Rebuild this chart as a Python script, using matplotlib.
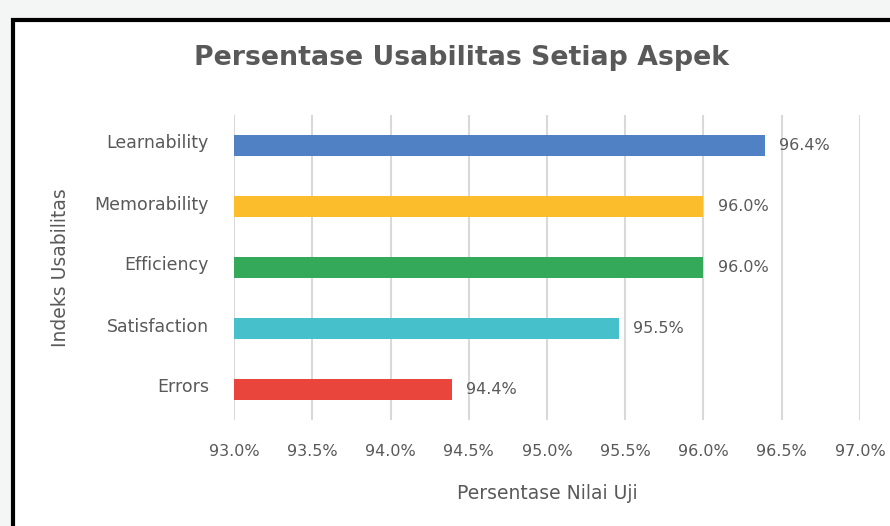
import matplotlib
matplotlib.use("Agg")
import matplotlib.pyplot as plt
from matplotlib.patches import Rectangle
from matplotlib.ticker import FuncFormatter
from matplotlib.transforms import ScaledTranslation

aspek = ["Learnability", "Memorability", "Efficiency", "Satisfaction", "Errors"]
nilai = [96.39, 96.00, 96.00, 95.46, 94.39]
warna = ["#4f81c4", "#fbbd2c", "#35a95a", "#46c0cb", "#e9453c"]
xticks = [93.0, 93.5, 94.0, 94.5, 95.0, 95.5, 96.0, 96.5, 97.0]

plt.rcParams["font.family"] = ["DejaVu Sans"]
teks = "#595959"

fig = plt.figure(figsize=(8.9, 5.26), dpi=100, facecolor="#f4f5f5")

# white chart area with black frame
fig.patches.append(Rectangle((13 / 890, -0.2), 1.2, 1.2 - 20 / 526,
                             transform=fig.transFigure, facecolor="white",
                             edgecolor="black", linewidth=3, zorder=0))

ax = fig.add_axes([234 / 890, 1 - 420 / 526, 626 / 890, 305 / 526])
ax.set_facecolor("none")
ax.set_zorder(2)

pos = list(range(len(aspek)))
ax.barh(pos, [v - 93.0 for v in nilai], left=93.0, height=0.36,
        color=warna, zorder=3)
for p, v in zip(pos, nilai):
    ax.text(v + 0.09, p, f"{v:.1f}%", va="center", ha="left",
            fontsize=11.5, color=teks)

ax.set_xlim(93.0, 97.0)
ax.set_ylim(4.5, -0.5)
ax.set_xticks(xticks)
ax.xaxis.set_major_formatter(FuncFormatter(lambda x, _: f"{x:.1f}%"))
ax.set_yticks(pos)
ax.set_yticklabels(aspek, fontsize=12.5)
ax.tick_params(axis="both", length=0, labelcolor=teks)
ax.tick_params(axis="x", pad=17, labelsize=11.5)
ax.tick_params(axis="y", pad=18)
# category names sit a little above the bar centres
shift = ScaledTranslation(0, 4 / 100, fig.dpi_scale_trans)
for lbl in ax.get_yticklabels():
    lbl.set_transform(lbl.get_transform() + shift)
ax.grid(axis="x", color="#d9d9d9", linewidth=1.5, zorder=0)
for s in ax.spines.values():
    s.set_visible(False)

ax.set_xlabel("Persentase Nilai Uji", fontsize=13.5, color=teks, labelpad=18)
ax.set_ylabel("Indeks Usabilitas", fontsize=13.5, color=teks, labelpad=18)

t = fig.text(461 / 890, 1 - 58 / 526, "Persentase Usabilitas Setiap Aspek",
             ha="center", va="center", fontsize=19.3, fontweight="bold",
             color=teks)
t.set_zorder(3)

fig.savefig("out.png", dpi=100, facecolor=fig.get_facecolor())
